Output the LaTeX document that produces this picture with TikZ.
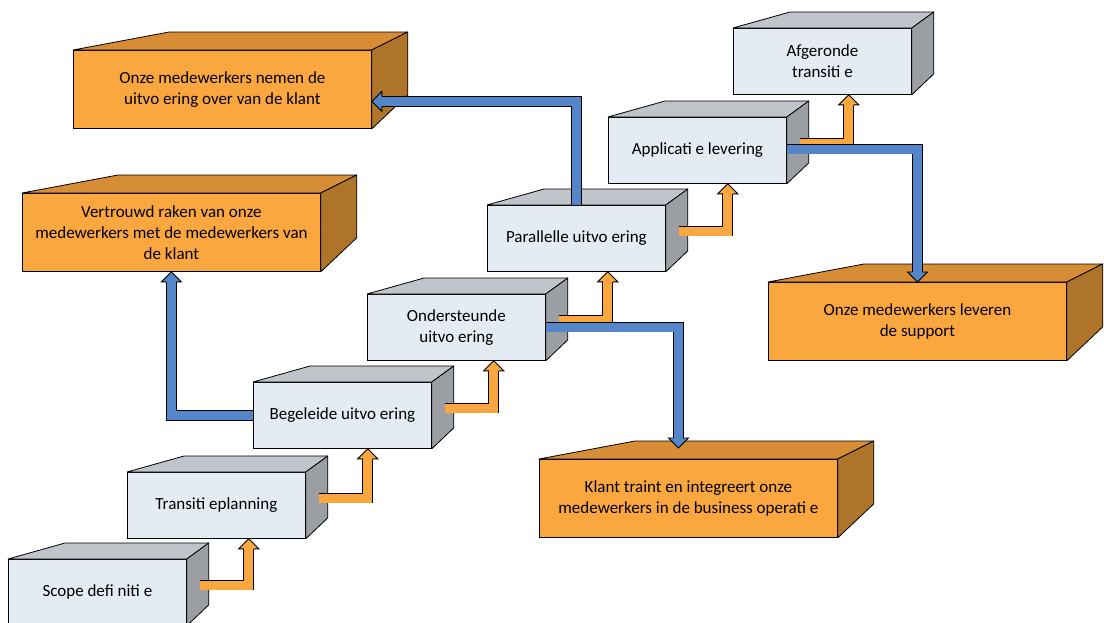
\documentclass[tikz,border=0pt]{standalone}
\usepackage{fontspec}
\setmainfont{Carlito}
\usetikzlibrary{calc}
\definecolor{gfront}{HTML}{E5EBF3}
\definecolor{gtop}{HTML}{C1C4CA}
\definecolor{gside}{HTML}{9B9EA2}
\definecolor{ofront}{HTML}{FBA73F}
\definecolor{otop}{HTML}{D78C36}
\definecolor{oside}{HTML}{AE7429}
\definecolor{aorange}{HTML}{FBA73F}
\definecolor{ablue}{HTML}{5686CA}
\tikzset{
  gbox/.style={draw=black, line width=0.8pt, fill=gfront, minimum width=178pt, minimum height=66pt,
    inner sep=0pt, anchor=north west, align=center, font=\fontsize{17}{21}\selectfont},
  obox/.style={gbox, fill=ofront, minimum width=298pt, minimum height=78pt},
  face/.style={draw=black, line width=0.8pt, line join=round},
  oarrow/.style={draw=black, line width=0.9pt, double=aorange, double distance=9pt, line join=miter},
  barrow/.style={draw=black, line width=0.9pt, double=ablue, double distance=9pt, line join=miter},
  headline/.style={draw=black, line width=0.9pt, line join=miter}
}
\newcommand\gfaces[1]{%
  \filldraw[face, fill=gtop] (#1.north west) -- ++(57,-16) -- ($(#1.north east)+(22,-16)$) -- (#1.north east) -- cycle;
  \filldraw[face, fill=gside] (#1.north east) -- ++(22,-16) -- ($(#1.south east)+(22,-21)$) -- (#1.south east) -- cycle;}
\newcommand\ofaces[1]{%
  \filldraw[face, fill=otop] (#1.north west) -- ++(96,-18) -- ($(#1.north east)+(36,-18)$) -- (#1.north east) -- cycle;
  \filldraw[face, fill=oside] (#1.north east) -- ++(36,-18) -- ($(#1.south east)+(36,-34)$) -- (#1.south east) -- cycle;}
\newcommand\headU[2]{%
  \fill[#2] (#1) -- ($(#1)+(-10,10)$) -- ($(#1)+(10,10)$) -- cycle;
  \draw[headline] ($(#1)+(-5,10)$) -- ($(#1)+(-10,10)$) -- (#1) -- ($(#1)+(10,10)$) -- ($(#1)+(5,10)$);}
\newcommand\headD[2]{%
  \fill[#2] (#1) -- ($(#1)+(-10,-10)$) -- ($(#1)+(10,-10)$) -- cycle;
  \draw[headline] ($(#1)+(-5,-10)$) -- ($(#1)+(-10,-10)$) -- (#1) -- ($(#1)+(10,-10)$) -- ($(#1)+(5,-10)$);}
\newcommand\headL[2]{%
  \fill[#2] (#1) -- ($(#1)+(10,-10)$) -- ($(#1)+(10,10)$) -- cycle;
  \draw[headline] ($(#1)+(10,-5)$) -- ($(#1)+(10,-10)$) -- (#1) -- ($(#1)+(10,10)$) -- ($(#1)+(10,5)$);}
\newcommand\oarr[3]{%
  \coordinate (#3c) at ($(#1.north east)+(62,0)$);
  \coordinate (#3t) at (#3c |- #2.south);
  \draw[oarrow] ($(#1.north east)+(13,26)$) -| ($(#3t)+(0,9.5)$);
  \headU{#3t}{aorange}}
\begin{document}
\begin{tikzpicture}[x=1pt, y=-1pt]
\useasboundingbox (0,0) rectangle (1104,622);
% grey boxes
\node[gbox] (sc) at (8,559) {Scope defi niti e};
\gfaces{sc}
\node[gbox] (tp) at (127,472) {Transiti eplanning};
\gfaces{tp}
\node[gbox] (bu) at (253,382) {Begeleide uitvo ering};
\gfaces{bu}
\node[gbox] (ou) at (367,294) {Ondersteunde\\uitvo ering};
\gfaces{ou}
\node[gbox] (pu) at (487,205) {Parallelle uitvo ering};
\gfaces{pu}
\node[gbox] (al) at (608,117) {Applicati e levering};
\gfaces{al}
\node[gbox] (at) at (733,28) {Afgeronde\\transiti e};
\gfaces{at}
% orange boxes
\node[obox] (on) at (73,50) {Onze medewerkers nemen de\\uitvo ering over van de klant};
\ofaces{on}
\node[obox] (vr) at (22,193) {Vertrouwd raken van onze\\medewerkers met de medewerkers van\\de klant};
\ofaces{vr}
\node[obox] (ol) at (768,282) {Onze medewerkers leveren\\de support};
\ofaces{ol}
\node[obox] (kt) at (539,459) {Klant traint en integreert onze\\medewerkers in de business operati e};
\ofaces{kt}
% orange step arrows
\oarr{sc}{tp}{a1}
\oarr{tp}{bu}{a2}
\oarr{bu}{ou}{a3}
\oarr{ou}{pu}{a4}
\oarr{pu}{al}{a5}
\oarr{al}{at}{a6}
% blue arrows
\coordinate (b1t) at ($(on.east)+(0,12)$);
\draw[barrow] (pu.north) |- ($(b1t)+(9.5,0)$);
\headL{b1t}{ablue}
\draw[barrow] (bu.west) -| ($(vr.south)+(0,9.5)$);
\headU{vr.south}{ablue}
\coordinate (b3t) at ($(kt.north)+(-10,-11)$);
\draw[barrow] ($(ou.north east)+(0,33)$) -| ($(b3t)+(0,-9.5)$);
\headD{b3t}{ablue}
\draw[barrow] ($(al.north east)+(0,32)$) -| ($(ol.north)+(0,-9.5)$);
\headD{ol.north}{ablue}
\end{tikzpicture}
\end{document}
